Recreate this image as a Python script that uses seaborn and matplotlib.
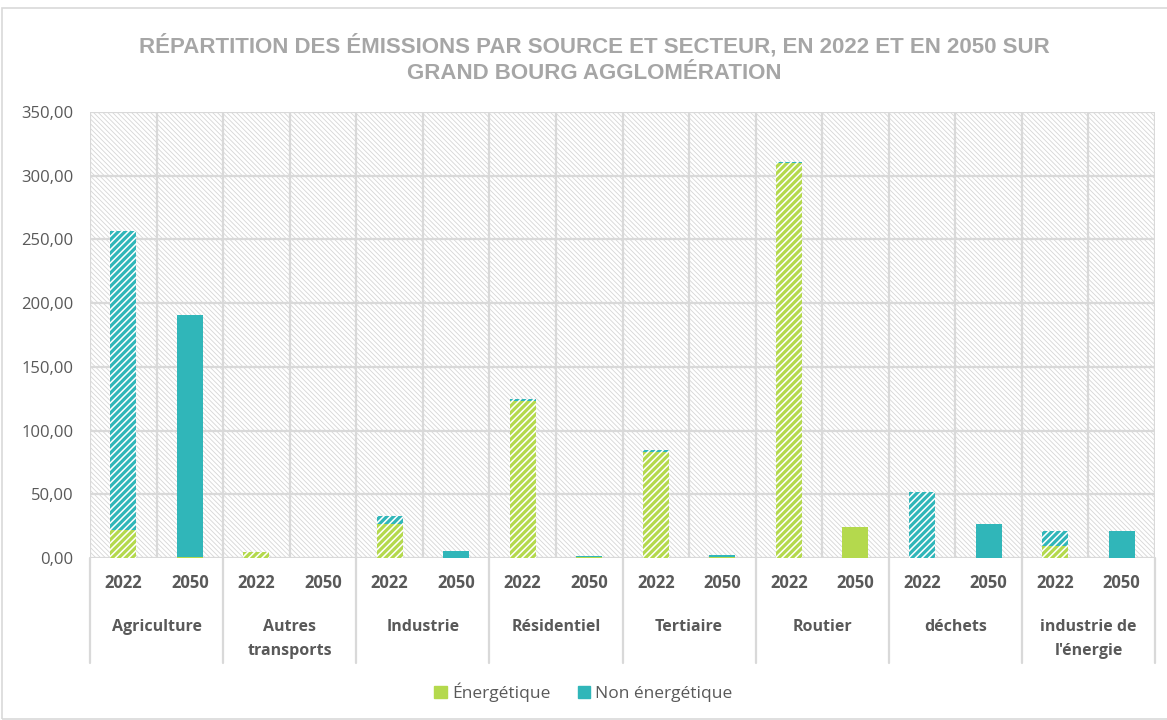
import numpy as np
import pandas as pd
import seaborn as sns
import matplotlib.pyplot as plt
from matplotlib.patches import Rectangle, Patch
import matplotlib.transforms as mtransforms

# ---------------- data ----------------
sectors = ["Agriculture", "Autres\ntransports", "Industrie", "Résidentiel",
           "Tertiaire", "Routier", "déchets", "industrie de\nl'énergie"]
years = ["2022", "2050"]
energ_2022 = [22.0, 4.5, 27.0, 123.5, 83.5, 310.0, 0.0, 9.5]
non_2022 = [235.0, 0.3, 6.0, 1.5, 1.5, 0.5, 52.0, 11.5]
energ_2050 = [1.0, 0.0, 0.3, 0.5, 0.5, 24.0, 0.0, 0.0]
non_2050 = [190.0, 0.0, 5.0, 1.0, 2.0, 0.0, 26.5, 21.0]
series_labels = ["Énergétique", "Non énergétique"]
yticks = [0, 50, 100, 150, 200, 250, 300, 350]
title = "RÉPARTITION DES ÉMISSIONS PAR SOURCE ET SECTEUR, EN 2022 ET EN 2050 SUR\nGRAND BOURG AGGLOMÉRATION"

GREEN = "#B4D94D"
TEAL = "#30B6B9"
GRID = "#D9D9D9"
TXT = "#595959"

sns.set_theme(style="white")
plt.rcParams['font.family'] = ['Open Sans', 'DejaVu Sans']
plt.rcParams['hatch.linewidth'] = 1.1


def set_hlw(p, lw):
    if hasattr(p, "set_hatch_linewidth"):
        p.set_hatch_linewidth(lw)


rows = []
for i, s in enumerate(sectors):
    rows.append(dict(slot=f"{i}-2022", sector=s, year="2022",
                     energ=energ_2022[i], non=non_2022[i]))
    rows.append(dict(slot=f"{i}-2050", sector=s, year="2050",
                     energ=energ_2050[i], non=non_2050[i]))
df = pd.DataFrame(rows)
df["total"] = df["energ"] + df["non"]
order = list(df["slot"])

W, H = 1167, 720
fig = plt.figure(figsize=(W / 100, H / 100), dpi=100)
L, R, T, B = 90, 1155, 112, 558
ax = fig.add_axes([L / W, 1 - B / H, (R - L) / W, (B - T) / H])

# hatched background
bg = Rectangle((0, 0), 1, 1, transform=ax.transAxes, facecolor="white",
               edgecolor="#D6D6D6", hatch="\\\\\\\\\\\\\\", lw=0, zorder=0)
set_hlw(bg, 0.6)
ax.add_patch(bg)

sns.barplot(data=df, x="slot", y="total", order=order, color=TEAL,
            saturation=1, width=0.39, errorbar=None, ax=ax, zorder=3)
sns.barplot(data=df, x="slot", y="energ", order=order, color=GREEN,
            saturation=1, width=0.39, errorbar=None, ax=ax, zorder=4)

for cont, col in zip(ax.containers[:2], [TEAL, GREEN]):
    for j, p in enumerate(cont):
        yr = df["year"].iloc[j]
        p.set_facecolor(col)
        p.set_linewidth(0)
        if yr == "2022":
            p.set_edgecolor("white")
            p.set_hatch("/////")
            set_hlw(p, 1.1)
        else:
            p.set_edgecolor(col)

n = len(order)
ax.set_xlim(-0.5, n - 0.5)
ax.set_ylim(0, 350)
for v in yticks:
    ax.axhline(v, color=GRID, lw=1.6, zorder=1)
for k in range(n + 1):
    ax.axvline(k - 0.5, color=GRID, lw=1.6, zorder=1)
for sp in ax.spines.values():
    sp.set_visible(False)

ax.set_xticks([])
ax.set_xlabel("")
ax.set_ylabel("")
ax.set_yticks(yticks)
ax.set_yticklabels([f"{v:.2f}".replace(".", ",") for v in yticks])
ax.tick_params(axis="y", length=0, pad=12, labelsize=12, labelcolor=TXT)

trans = mtransforms.blended_transform_factory(ax.transData, ax.transAxes)
ph = B - T
for j, row in df.iterrows():
    ax.text(j, -(583 - B) / ph, row["year"], transform=trans, ha="center",
            va="center", fontsize=12, fontweight="bold", color=TXT)
for i, s in enumerate(sectors):
    ax.text(2 * i + 0.5, -(619 - B) / ph, s, transform=trans, ha="center",
            va="top", fontsize=11.5, fontweight="bold", color=TXT,
            linespacing=1.7)
for i in range(len(sectors) + 1):
    x = 2 * i - 0.5
    ax.plot([x, x], [0, -(663 - B) / ph], transform=trans, clip_on=False,
            color=GRID, lw=1.6)

# legend
handles = [Patch(facecolor=GREEN, edgecolor=GREEN),
           Patch(facecolor=TEAL, edgecolor=TEAL)]
fig.legend(handles, series_labels, loc="center", bbox_to_anchor=(0.5, 1 - 692 / H),
           ncol=2, frameon=False, fontsize=12.5, handlelength=0.7, handleheight=0.7,
           handletextpad=0.3, columnspacing=1.6, labelcolor=TXT)

# title
fig.text(594 / W, 1 - 59 / H, title, ha="center", va="center", fontsize=16,
         fontweight="bold", color="#A6A6A6", linespacing=1.4,
         family=["Liberation Sans", "DejaVu Sans"])

# chart border
fig.patches.append(Rectangle((2 / W, 1 / H), 1, 1 - 9 / H, transform=fig.transFigure,
                             fill=False, edgecolor=GRID, lw=1.2))

fig.savefig("out.png", dpi=100)
